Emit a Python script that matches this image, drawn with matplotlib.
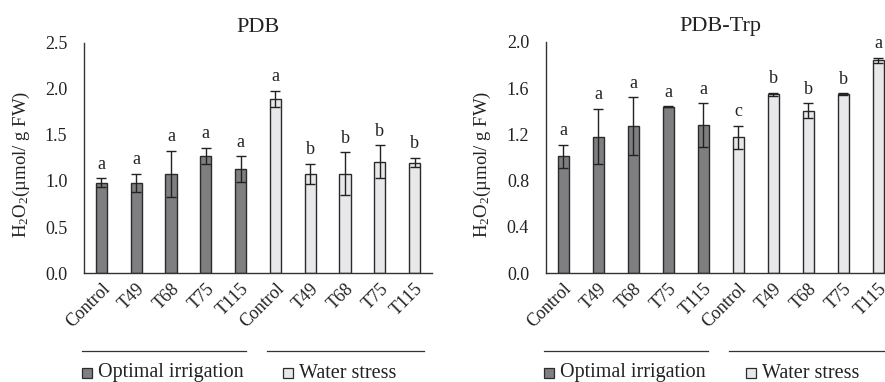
import numpy as np
import matplotlib.pyplot as plt
from matplotlib.patches import Rectangle
from matplotlib.lines import Line2D

plt.rcParams['font.family'] = ['Liberation Serif', 'DejaVu Serif']
plt.rcParams['mathtext.fontset'] = 'custom'
plt.rcParams['mathtext.rm'] = 'Liberation Serif'
plt.rcParams['mathtext.it'] = 'Liberation Serif:italic'

cats = ['Control', 'T49', 'T68', 'T75', 'T115', 'Control', 'T49', 'T68', 'T75', 'T115']
groups = ['Optimal irrigation', 'Water stress']

# PDB
pdb = [0.98, 0.98, 1.08, 1.27, 1.13, 1.89, 1.08, 1.08, 1.21, 1.20]
pdb_err = [0.05, 0.10, 0.25, 0.09, 0.14, 0.09, 0.11, 0.23, 0.18, 0.05]
pdb_let = ['a', 'a', 'a', 'a', 'a', 'a', 'b', 'b', 'b', 'b']

# PDB-Trp
trp = [1.01, 1.18, 1.27, 1.44, 1.28, 1.175, 1.547, 1.405, 1.547, 1.84]
trp_err = [0.10, 0.24, 0.25, 0.005, 0.19, 0.10, 0.015, 0.065, 0.01, 0.025]
trp_let = ['a', 'a', 'a', 'a', 'a', 'c', 'b', 'b', 'b', 'a']

dark = '#7f7f81'
light = '#e8e8ea'
edge = '#2b2b2b'

fig = plt.figure(figsize=(8.85, 3.82), dpi=100)
W, H = 885.0, 382.0


def panel(rect, vals, errs, lets, title, ymax, yticks, fmt):
    ax = fig.add_axes(rect)
    x = np.arange(len(vals))
    cols = [dark] * 5 + [light] * 5
    ax.bar(x, vals, width=0.32, color=cols, edgecolor=edge, linewidth=1.0,
           yerr=errs, error_kw=dict(ecolor='#222222', elinewidth=1.0, capsize=3.5, capthick=1.0))
    for xi, v, e, l in zip(x, vals, errs, lets):
        ax.annotate(l, (xi, v + e), xytext=(0, 4), textcoords='offset points',
                    ha='center', va='bottom', fontsize=13, color='#222222')
    ax.set_xlim(-0.5, 9.5)
    ax.set_ylim(0, ymax)
    ax.set_yticks(yticks)
    ax.set_yticklabels([fmt % t for t in yticks])
    ax.set_xticks(x)
    ax.set_xticklabels(cats, rotation=45, ha='right', rotation_mode='anchor')
    ax.tick_params(axis='both', length=0, labelsize=13, colors='#222222')
    ax.tick_params(axis='y', pad=12)
    ax.tick_params(axis='x', pad=5)
    for s in ['top', 'right']:
        ax.spines[s].set_visible(False)
    for s in ['left', 'bottom']:
        ax.spines[s].set_color('#333333')
        ax.spines[s].set_linewidth(1.0)
    ax.set_title(title, fontsize=16, pad=8, color='#222222')
    ax.set_ylabel('H$_2$O$_2$(µmol/ g FW)', fontsize=13.5, color='#222222')
    return ax


ax1 = panel([84 / W, (H - 273) / H, 348 / W, 230 / H], pdb, pdb_err, pdb_let, 'PDB',
            2.5, [0.0, 0.5, 1.0, 1.5, 2.0, 2.5], '%.1f')
ax1.yaxis.set_label_coords(-0.15, 0.47)
ax2 = panel([545.7 / W, (H - 273) / H, 350 / W, 231 / H], trp, trp_err, trp_let, 'PDB-Trp',
            2.0, [0.0, 0.4, 0.8, 1.2, 1.6, 2.0], '%.1f')
ax2.yaxis.set_label_coords(-0.15, 0.47)

# group lines and legend below each panel
line_y = (H - 351) / H
leg_y = (H - 373) / H
specs = [
    [(81.7, 245.7), (266.7, 424.3), 82, 283],
    [(544, 707.7), (729, 890), 544, 746],
]
for l1, l2, sq1, sq2 in specs:
    for a, b in (l1, l2):
        fig.add_artist(Line2D([a / W, b / W], [line_y, line_y], color='#333333', lw=0.9))
    for sx, name, c in ((sq1, groups[0], dark), (sq2, groups[1], light)):
        fig.add_artist(Rectangle((sx / W, leg_y - 5 / H), 10 / W, 10 / H, facecolor=c,
                                 edgecolor=edge, lw=0.9, transform=fig.transFigure))
        fig.text((sx + 16) / W, leg_y, name, fontsize=14.5, va='center', ha='left', color='#222222')

fig.savefig('out.png', dpi=100)
